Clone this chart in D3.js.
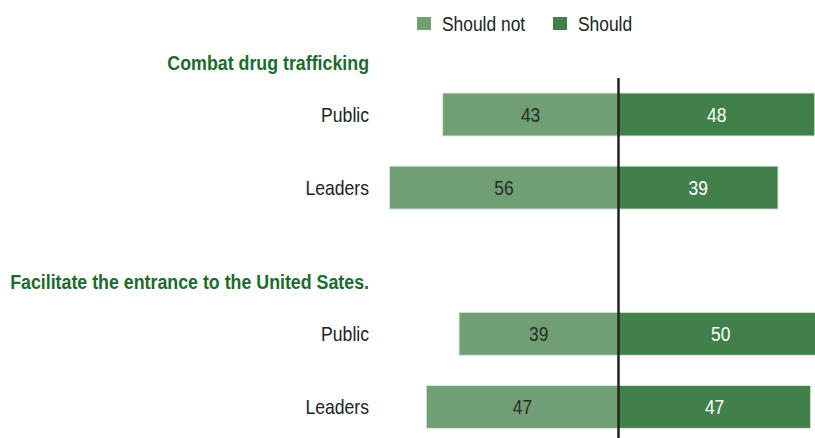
<!DOCTYPE html>
<html>
<head>
<meta charset="utf-8">
<script src="https://cdn.jsdelivr.net/npm/d3@7/dist/d3.min.js"></script>
<style>
  html, body { margin: 0; padding: 0; background: #fff; }
  svg { display: block; }
  text { font-family: "Liberation Sans Narrow", "Arial Narrow", "Liberation Sans", Arial, sans-serif; }
</style>
</head>
<body>
<svg id="chart" width="815" height="438"></svg>
<script>
// Survey data: share who say the country should / should not help
const groups = ["Combat drug trafficking", "Facilitate the entrance to the United Sates."];
const respondents = ["Public", "Leaders"];
const shouldNot = [[43, 56], [39, 47]];
const should = [[48, 39], [50, 47]];
const seriesNames = ["Should not", "Should"];
const colors = ["#6f9f73", "#41804a"];

const svg = d3.select("#chart");
const W = 815, H = 438;
const center = 618.5;
const unit = 4.09;

// Place a text at (x, y) with a condensed horizontal scale
function place(sel, fx, fy, sx = 0.87) {
  return sel.attr("transform", (d, i) => `translate(${fx(d, i)},${fy(d, i)}) scale(${sx},1)`);
}

// Rows: two groups, separated by an empty slot
const rows = [];
groups.forEach((g, gi) => {
  respondents.forEach((r, ri) => {
    rows.push({ key: gi + "-" + r, group: g, gi, label: r, no: shouldNot[gi][ri], yes: should[gi][ri] });
  });
  if (gi < groups.length - 1) rows.push({ key: "gap" + gi, spacer: true });
});

const step = 73.1, band = 43;
const y = d3.scaleBand()
  .domain(rows.map(d => d.key))
  .range([93 - (step - band) / 2, 93 - (step - band) / 2 + step * rows.length])
  .paddingInner((step - band) / step)
  .paddingOuter((step - band) / step / 2);

const xRight = d3.scaleLinear().domain([0, 100]).range([center, center + unit * 100]);
const xLeft = d3.scaleLinear().domain([0, 100]).range([center, center - unit * 100]);

const dataRows = rows.filter(d => !d.spacer);
const mid = d => y(d.key) + y.bandwidth() / 2;

// Should not (left)
svg.append("g").selectAll("rect")
  .data(dataRows).join("rect")
  .attr("x", d => xLeft(d.no))
  .attr("y", d => y(d.key))
  .attr("width", d => xLeft(0) - xLeft(d.no))
  .attr("height", y.bandwidth())
  .attr("fill", colors[0])
  .attr("stroke", "#dfeae0")
  .attr("stroke-width", 1);

// Should (right)
svg.append("g").selectAll("rect")
  .data(dataRows).join("rect")
  .attr("x", xRight(0))
  .attr("y", d => y(d.key))
  .attr("width", d => xRight(d.yes) - xRight(0))
  .attr("height", y.bandwidth())
  .attr("fill", colors[1])
  .attr("stroke", "#dfeae0")
  .attr("stroke-width", 1);

// Value labels
place(svg.append("g").selectAll("text")
  .data(dataRows).join("text"),
  d => (xLeft(d.no) + xLeft(0)) / 2, mid)
  .attr("dy", "0.35em")
  .attr("text-anchor", "middle")
  .attr("font-size", 20)
  .attr("fill", "#2b2b2b")
  .text(d => d.no);

place(svg.append("g").selectAll("text")
  .data(dataRows).join("text"),
  d => (xRight(d.yes) + xRight(0)) / 2, mid)
  .attr("dy", "0.35em")
  .attr("text-anchor", "middle")
  .attr("font-size", 20)
  .attr("fill", "#ffffff")
  .text(d => d.yes);

// Respondent labels
place(svg.append("g").selectAll("text")
  .data(dataRows).join("text"),
  () => 369, mid, 0.88)
  .attr("dy", "0.35em")
  .attr("text-anchor", "end")
  .attr("font-size", 20)
  .attr("fill", "#222")
  .text(d => d.label);

// Group titles
const titleData = groups.map((g, gi) => ({ g, first: dataRows.find(d => d.gi === gi) }));
place(svg.append("g").selectAll("text")
  .data(titleData).join("text"),
  () => 369, d => mid(d.first) - 51.5, 0.89)
  .attr("dy", "0.35em")
  .attr("text-anchor", "end")
  .attr("font-size", 20)
  .attr("font-weight", "bold")
  .attr("fill", "#1d6b2c")
  .text(d => d.g);

// Center axis line
svg.append("line")
  .attr("x1", center).attr("x2", center)
  .attr("y1", 78).attr("y2", H)
  .attr("stroke", "#222")
  .attr("stroke-width", 2.5);

// Legend
const legendX = [417, 553];
const legend = svg.append("g");
legend.selectAll("rect")
  .data(seriesNames).join("rect")
  .attr("x", (d, i) => legendX[i]).attr("y", 17)
  .attr("width", 14).attr("height", 13)
  .attr("fill", (d, i) => colors[i]);
place(legend.selectAll("text")
  .data(seriesNames).join("text"),
  (d, i) => legendX[i] + 25, () => 23.5)
  .attr("dy", "0.35em")
  .attr("font-size", 20)
  .attr("fill", "#222")
  .text(d => d);
</script>
</body>
</html>
